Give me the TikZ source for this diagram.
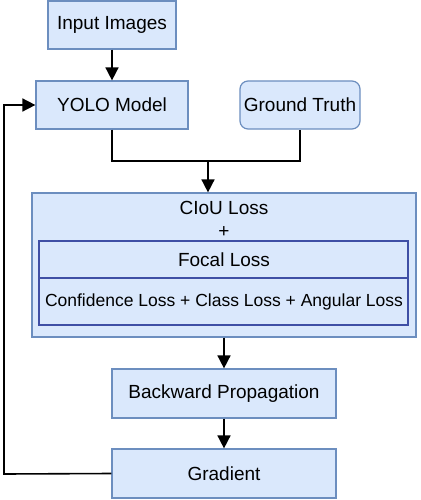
\documentclass[tikz,border=0pt]{standalone}
\usepackage{fontspec}
\setmainfont{Liberation Sans}
\usetikzlibrary{arrows.meta,calc}
\definecolor{boxfill}{HTML}{DAE8FC}
\definecolor{boxdraw}{HTML}{6C8EBF}
\definecolor{innerdraw}{HTML}{3F4FA5}
\begin{document}
\begin{tikzpicture}[x=1pt,y=-1pt,
  box/.style={draw=boxdraw,fill=boxfill,line width=1.2pt,inner sep=0pt,font=\fontsize{19}{22}\selectfont},
  lbl/.style={inner sep=0pt,font=\fontsize{19}{22}\selectfont},
  conn/.style={line width=1.6pt,black},
  arr/.style={conn,-{Triangle[length=13pt,width=13pt]}}]
\useasboundingbox (0,0) rectangle (420,500);
\node[box,minimum width=128pt,minimum height=48pt] (inp) at (112,25) {Input Images};
\node[box,minimum width=152pt,minimum height=48pt] (yolo) at (112,105) {YOLO Model};
\node[box,rounded corners=8pt,minimum width=120pt,minimum height=48pt] (gt) at (300,105) {Ground Truth};
\node[box,minimum width=384pt,minimum height=144pt] (big) at (224,265) {};
\node[draw=innerdraw,line width=1.2pt,fill=boxfill,minimum width=369pt,minimum height=84pt,inner sep=0pt] (inner) at (223.5,283) {};
\coordinate (divl) at (39,278);
\coordinate (divr) at (408,278);
\draw[innerdraw,line width=1.2pt] (divl) -- (divr);
\node[lbl] (ciou) at (224,208) {CIoU Loss};
\node[lbl] (plus) at (224,232) {+};
\node[lbl] (focal) at (224,260) {Focal Loss};
\node[inner sep=0pt,font=\fontsize{17.5}{21}\selectfont] (conf) at (224,302) {Confidence Loss + Class Loss + Angular Loss};
\node[box,minimum width=224pt,minimum height=49pt] (back) at (224,393.5) {Backward Propagation};
\node[box,minimum width=224pt,minimum height=49pt] (grad) at (224,473.5) {Gradient};
\coordinate (merge) at (208,161);
\coordinate (loopx) at (4,474);
\draw[arr] (inp) -- (yolo);
\draw[conn] (yolo.south) |- (merge) -| (gt.south);
\draw[arr] (merge) -- (merge |- big.north);
\draw[arr] (big) -- (back);
\draw[arr] (back) -- (grad);
\draw[arr] (grad.west) -- (loopx) |- (yolo.west);
\end{tikzpicture}
\end{document}
